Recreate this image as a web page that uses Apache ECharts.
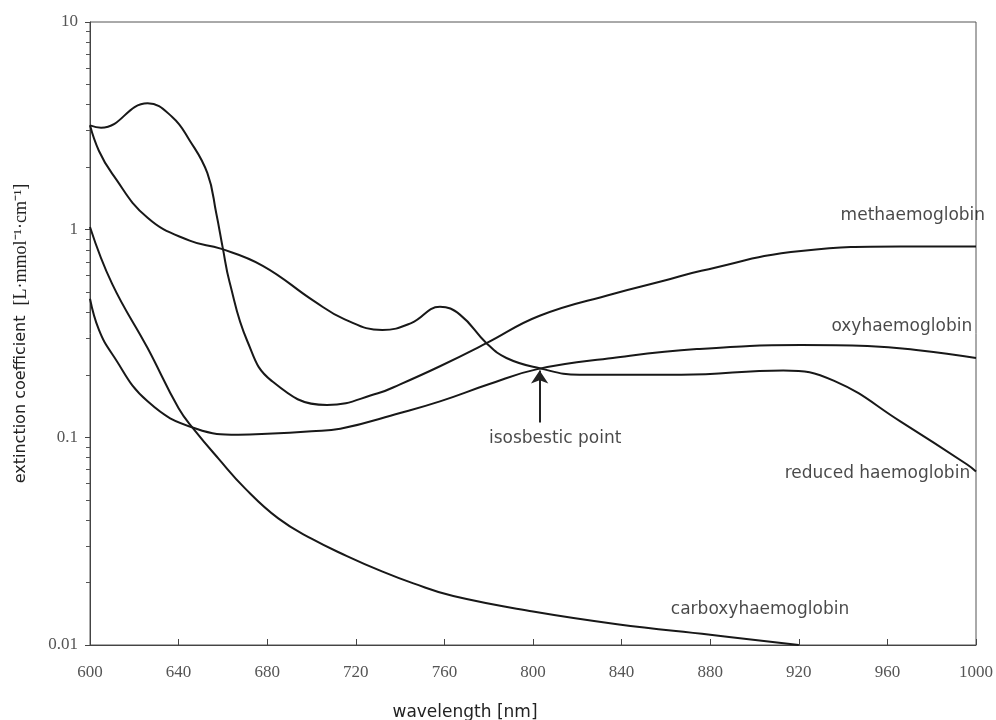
<!DOCTYPE html>
<html>
<head>
<meta charset="utf-8">
<script src="https://cdn.jsdelivr.net/npm/echarts@6/dist/echarts.min.js"></script>
<style>html,body{margin:0;padding:0;background:#fff;}#c{width:996px;height:720px;}</style>
</head>
<body>
<div id="c"></div>
<script>
// ---- data (wavelength nm, extinction coefficient L·mmol-1·cm-1) ----
const xTicks = [600, 640, 680, 720, 760, 800, 840, 880, 920, 960, 1000];
const yTicks = [0.01, 0.1, 1, 10];

const methNm  = [600, 605, 626, 637, 645, 653, 657, 660, 663, 671, 682, 707, 730, 740, 758, 779, 803, 836, 859, 876, 921, 966, 1000];
const methVal = [3.18, 3.1, 4.06, 3.5, 2.69, 1.87, 1.2, 0.81, 0.56, 0.291, 0.187, 0.143, 0.163, 0.18, 0.22, 0.284, 0.385, 0.49, 0.567, 0.634, 0.79, 0.83, 0.83];

const hbNm  = [600, 604, 610, 626, 645, 659, 678, 701, 715, 732, 745, 758, 767, 779, 788, 803, 821, 867, 913, 936, 966, 996, 1000];
const hbVal = [3.18, 2.4, 1.86, 1.14, 0.885, 0.81, 0.67, 0.454, 0.37, 0.329, 0.355, 0.425, 0.39, 0.284, 0.241, 0.215, 0.20, 0.20, 0.21, 0.187, 0.119, 0.074, 0.0685];

const oxyNm  = [600, 604, 610, 626, 648, 667, 680, 700, 713, 740, 758, 780, 802, 836, 874, 921, 951, 975, 1000];
const oxyVal = [0.465, 0.33, 0.252, 0.149, 0.110, 0.103, 0.104, 0.107, 0.11, 0.131, 0.149, 0.18, 0.213, 0.241, 0.266, 0.278, 0.275, 0.262, 0.241];

const coNm  = [600, 610, 626, 640, 647, 658, 670, 685, 700, 716, 731, 746, 764, 800, 838, 880, 920];
const coVal = [1.03, 0.548, 0.269, 0.138, 0.109, 0.079, 0.0568, 0.0407, 0.0325, 0.0268, 0.0228, 0.0198, 0.0172, 0.0145, 0.0126, 0.0112, 0.01];

const minorY = [0.02,0.03,0.04,0.05,0.06,0.07,0.08,0.09,0.2,0.3,0.4,0.5,0.6,0.7,0.8,0.9,2,3,4,5,6,7,8,9];

const zip = (a, b) => a.map((x, i) => [x, b[i]]);

const lineColor = '#181818';
const serif = 'Liberation Serif';
const sans = 'DejaVu Sans';
const annoStyle = {fontFamily: sans, fontSize: 17, color: '#1a1a1a'};

function curve(name, nm, val) {
  return {
    name, type: 'line', data: zip(nm, val), smooth: 0.45, showSymbol: false,
    symbol: 'none', lineStyle: {color: lineColor, width: 2}, silent: true, z: 3
  };
}

const chart = echarts.init(document.getElementById('c'), null, {renderer: 'canvas'});
const hbSeries = curve('reduced haemoglobin', hbNm, hbVal);
hbSeries.markLine = {
  silent: true, symbol: ['none', 'arrow'], symbolSize: 13,
  lineStyle: {color: '#222', width: 2, type: 'solid'},
  itemStyle: {color: '#222'}, label: {show: false},
  data: [[{coord: [803, 0.118]}, {coord: [803, 0.21]}]]
};

const option = {
  backgroundColor: '#fff',
  animation: false,
  grid: {left: 90, right: 20, top: 22, bottom: 75, outerBoundsMode: 'none', containLabel: false,
    show: true, borderColor: '#555', borderWidth: 1, backgroundColor: 'transparent'},
  xAxis: {
    type: 'value', min: 600, max: 1000, interval: 40,
    name: 'wavelength [nm]', nameLocation: 'middle', nameGap: 59,
    nameTextStyle: {fontFamily: sans, fontSize: 17, color: '#222', padding: [0, 136, 0, 0]},
    axisLine: {show: true, onZero: false, lineStyle: {color: '#444', width: 1}},
    axisTick: {show: true, inside: true, length: 6, lineStyle: {color: '#444'}},
    axisLabel: {fontFamily: serif, fontSize: 17, color: '#555', margin: 19,
      formatter: v => String(v)},
    splitLine: {show: false}
  },
  yAxis: [{
    type: 'log', logBase: 10, min: 0.01, max: 10,
    name: '{s|extinction coefficient}   {r|[L·mmol⁻¹·cm⁻¹]}',
    nameLocation: 'middle', nameGap: 60, nameRotate: 90,
    nameTextStyle: {padding: [0, 0, 0, 0], rich: {
      s: {fontFamily: sans, fontSize: 16, color: '#222'},
      r: {fontFamily: serif, fontSize: 18, color: '#222'}
    }},
    axisLine: {show: true, onZero: false, lineStyle: {color: '#444', width: 1}},
    axisTick: {show: true, inside: false, length: 5, lineStyle: {color: '#444'}},
    axisLabel: {fontFamily: serif, fontSize: 17, color: '#555', margin: 12,
      formatter: v => String(v)},
    splitLine: {show: false}, minorTick: {show: false}
  }, {
    type: 'value', min: -2, max: 1, position: 'left',
    axisLine: {show: false, onZero: false}, axisLabel: {show: false}, splitLine: {show: false},
    axisTick: {show: true, inside: false, length: 4, lineStyle: {color: '#555'},
      customValues: minorY.map(v => Math.log10(v))}
  }],
  series: [
    curve('methaemoglobin', methNm, methVal),
    hbSeries,
    curve('oxyhaemoglobin', oxyNm, oxyVal),
    curve('carboxyhaemoglobin', coNm, coVal),
    {
      type: 'scatter', symbolSize: 0, silent: true, z: 5,
      label: {show: true, position: [0, 0], align: 'center', verticalAlign: 'middle',
        formatter: p => p.data[2], ...annoStyle},
      data: [
        [971.5, 1.17, 'methaemoglobin'],
        [966.5, 0.34, 'oxyhaemoglobin'],
        [955.5, 0.067, 'reduced haemoglobin'],
        [902.5, 0.01476, 'carboxyhaemoglobin'],
        [810, 0.099, 'isosbestic point']
      ]
    }
  ]
};
chart.setOption(option);
</script>
</body>
</html>
